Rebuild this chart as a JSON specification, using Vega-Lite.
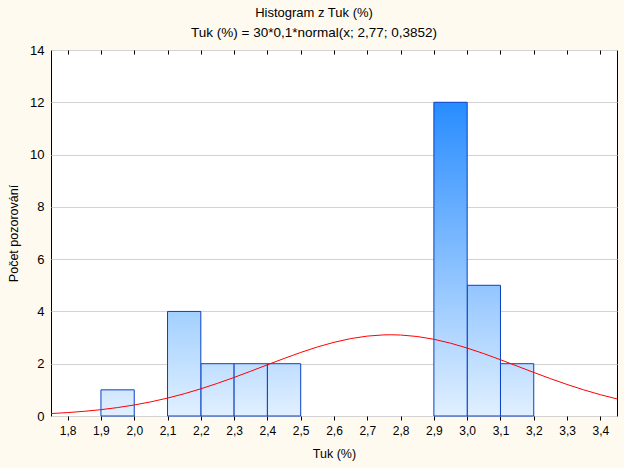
{
  "$schema": "https://vega.github.io/schema/vega-lite/v6.json",
  "autosize": "none",
  "padding": {"left": 51, "top": 50, "right": 7, "bottom": 52},
  "width": 566,
  "height": 366,
  "background": "#fffaf0",
  "title": {
    "text": "Histogram z Tuk (%)",
    "subtitle": "Tuk (%) = 30*0,1*normal(x; 2,77; 0,3852)",
    "anchor": "middle",
    "dx": -20,
    "offset": 5,
    "font": "Liberation Sans",
    "fontSize": 13,
    "fontWeight": "normal",
    "color": "#000000",
    "subtitleFont": "Liberation Sans",
    "subtitleFontSize": 13.5,
    "subtitleColor": "#000000",
    "subtitlePadding": 6
  },
  "config": {
    "view": {"fill": "#ffffff", "stroke": "#000000", "strokeWidth": 1},
    "axis": {
      "labelFont": "Liberation Sans",
      "labelFontSize": 12,
      "labelColor": "#000000",
      "titleFont": "Liberation Sans",
      "titleFontSize": 12.5,
      "titleFontWeight": "normal",
      "titleColor": "#000000",
      "domain": false
    }
  },
  "datasets": {
    "bars": [
      {"od": 1.9, "do": 2.0, "pocet": 1},
      {"od": 2.1, "do": 2.2, "pocet": 4},
      {"od": 2.2, "do": 2.3, "pocet": 2},
      {"od": 2.3, "do": 2.4, "pocet": 2},
      {"od": 2.4, "do": 2.5, "pocet": 2},
      {"od": 2.9, "do": 3.0, "pocet": 12},
      {"od": 3.0, "do": 3.1, "pocet": 5},
      {"od": 3.1, "do": 3.2, "pocet": 2}
    ],
    "curve": [
      {"x": 1.75, "y": 0.0933}, {"x": 1.80, "y": 0.1305}, {"x": 1.85, "y": 0.1794},
      {"x": 1.90, "y": 0.2424}, {"x": 1.95, "y": 0.3224}, {"x": 2.00, "y": 0.4214},
      {"x": 2.05, "y": 0.5415}, {"x": 2.10, "y": 0.6846}, {"x": 2.15, "y": 0.8508},
      {"x": 2.20, "y": 1.0397}, {"x": 2.25, "y": 1.2492}, {"x": 2.30, "y": 1.4759},
      {"x": 2.35, "y": 1.7147}, {"x": 2.40, "y": 1.9588}, {"x": 2.45, "y": 2.2002},
      {"x": 2.50, "y": 2.4303}, {"x": 2.55, "y": 2.6394}, {"x": 2.60, "y": 2.8187},
      {"x": 2.65, "y": 2.9599}, {"x": 2.70, "y": 3.0562}, {"x": 2.75, "y": 3.1028},
      {"x": 2.77, "y": 3.1070}, {"x": 2.80, "y": 3.0976}, {"x": 2.85, "y": 3.0407},
      {"x": 2.90, "y": 2.9351}, {"x": 2.95, "y": 2.7857}, {"x": 3.00, "y": 2.5998},
      {"x": 3.05, "y": 2.3857}, {"x": 3.10, "y": 2.1527}, {"x": 3.15, "y": 1.9100},
      {"x": 3.20, "y": 1.6664}, {"x": 3.25, "y": 1.4295}, {"x": 3.30, "y": 1.2057},
      {"x": 3.35, "y": 1.0001}, {"x": 3.40, "y": 0.8157}, {"x": 3.45, "y": 0.6541}
    ]
  },
  "layer": [
    {
      "data": {"name": "bars"},
      "transform": [{"filter": "datum.pocet == 1"}],
      "mark": {"type": "bar", "stroke": "#0a40c4", "strokeWidth": 1,
        "fill": {"gradient": "linear", "x1": 0, "y1": 0, "x2": 0, "y2": 1,
          "stops": [{"offset": 0, "color": "#d1e7ff"}, {"offset": 1, "color": "#e1f0ff"}]}},
      "encoding": {
        "x": {"field": "od", "type": "quantitative", "scale": {"domain": [1.75, 3.45], "nice": false, "zero": false},
          "axis": {"orient": "bottom", "title": "Tuk (%)", "values": [1.8,1.9,2.0,2.1,2.2,2.3,2.4,2.5,2.6,2.7,2.8,2.9,3.0,3.1,3.2,3.3,3.4],
            "labelExpr": "replace(format(datum.value, '.1f'), '.', ',')", "grid": false, "ticks": true, "tickSize": 4, "tickColor": "#000000",
            "labelPadding": 5, "titlePadding": 11, "labelFlush": false}},
        "x2": {"field": "do"},
        "y": {"field": "pocet", "type": "quantitative", "scale": {"domain": [0, 14], "nice": false},
          "axis": {"title": "Počet pozorování", "values": [0,2,4,6,8,10,12,14], "ticks": false, "grid": true, "gridColor": "#d3d3d3",
            "labelPadding": 7, "labelFontSize": 13, "titlePadding": 9}},
        "y2": {"datum": 0}
      }
    },
    {
      "data": {"name": "bars"},
      "transform": [{"filter": "datum.pocet == 2"}],
      "mark": {"type": "bar", "stroke": "#0a40c4", "strokeWidth": 1,
        "fill": {"gradient": "linear", "x1": 0, "y1": 0, "x2": 0, "y2": 1,
          "stops": [{"offset": 0, "color": "#c0deff"}, {"offset": 1, "color": "#e1f0ff"}]}},
      "encoding": {
        "x": {"field": "od", "type": "quantitative", "axis": null},
        "x2": {"field": "do"},
        "y": {"field": "pocet", "type": "quantitative"},
        "y2": {"datum": 0}
      }
    },
    {
      "data": {"name": "bars"},
      "transform": [{"filter": "datum.pocet == 4"}],
      "mark": {"type": "bar", "stroke": "#0a40c4", "strokeWidth": 1,
        "fill": {"gradient": "linear", "x1": 0, "y1": 0, "x2": 0, "y2": 1,
          "stops": [{"offset": 0, "color": "#a2d0ff"}, {"offset": 1, "color": "#e1f0ff"}]}},
      "encoding": {
        "x": {"field": "od", "type": "quantitative", "axis": null},
        "x2": {"field": "do"},
        "y": {"field": "pocet", "type": "quantitative"},
        "y2": {"datum": 0}
      }
    },
    {
      "data": {"name": "bars"},
      "transform": [{"filter": "datum.pocet == 5"}],
      "mark": {"type": "bar", "stroke": "#0a40c4", "strokeWidth": 1,
        "fill": {"gradient": "linear", "x1": 0, "y1": 0, "x2": 0, "y2": 1,
          "stops": [{"offset": 0, "color": "#92c5ff"}, {"offset": 1, "color": "#e1f0ff"}]}},
      "encoding": {
        "x": {"field": "od", "type": "quantitative", "axis": null},
        "x2": {"field": "do"},
        "y": {"field": "pocet", "type": "quantitative"},
        "y2": {"datum": 0}
      }
    },
    {
      "data": {"name": "bars"},
      "transform": [{"filter": "datum.pocet == 12"}],
      "mark": {"type": "bar", "stroke": "#0a40c4", "strokeWidth": 1,
        "fill": {"gradient": "linear", "x1": 0, "y1": 0, "x2": 0, "y2": 1,
          "stops": [{"offset": 0, "color": "#288cff"}, {"offset": 1, "color": "#e1f0ff"}]}},
      "encoding": {
        "x": {"field": "od", "type": "quantitative", "axis": null},
        "x2": {"field": "do"},
        "y": {"field": "pocet", "type": "quantitative"},
        "y2": {"datum": 0}
      }
    },
    {
      "data": {"name": "curve"},
      "mark": {"type": "line", "color": "#ff0000", "strokeWidth": 1, "clip": true},
      "encoding": {
        "x": {"field": "x", "type": "quantitative",
          "axis": {"orient": "top", "title": null, "labels": false, "values": [1.8,1.9,2.0,2.1,2.2,2.3,2.4,2.5,2.6,2.7,2.8,2.9,3.0,3.1,3.2,3.3,3.4],
            "grid": false, "ticks": true, "tickSize": -4, "tickColor": "#000000"}},
        "y": {"field": "y", "type": "quantitative"}
      }
    }
  ],
  "resolve": {"axis": {"x": "independent"}}
}
